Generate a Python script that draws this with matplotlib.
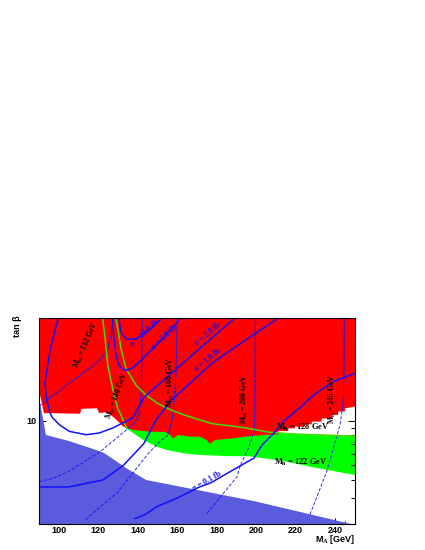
import matplotlib
matplotlib.use("Agg")
import matplotlib.pyplot as plt
from matplotlib.patches import Polygon
from matplotlib.ticker import FixedLocator, NullFormatter, FixedFormatter

plt.rcParams['mathtext.fontset'] = 'custom'
plt.rcParams['mathtext.rm'] = 'Liberation Serif:bold'
plt.rcParams['mathtext.it'] = 'Liberation Serif:italic:bold'
plt.rcParams['mathtext.bf'] = 'Liberation Serif:bold'

# ---------------- data (M_A [GeV], tan beta) ----------------
# LEP excluded region upper boundary
lep_x = [90, 90, 93.5, 105.2, 118.9, 122.9, 129, 134, 144.2, 198.9, 248]
lep_y = [2.0, 14.6, 8.04, 7.31, 6.36, 6.07, 5.35, 4.8, 3.98, 2.86, 2.0]

# red (excluded) region lower boundary, left to right
red_x = [90, 92.5, 97, 110.8, 111.5, 119.4, 120.5, 124.3, 128.5, 132.7, 137.7,
         146.2, 153.8, 156.3, 158, 160.4, 166.5, 171.5, 174.9, 176.6, 179.1,
         188.4, 194.3, 200, 207.6, 211.2, 211.2, 216.2, 216.2, 219.6, 219.6,
         224.7, 224.7, 228.1, 228.1, 233.1, 233.1, 238.2, 238.2, 241.5, 241.5,
         244.9, 244.9, 250]
red_y = [16.2, 11.3, 11.3, 11.2, 12.1, 12.2, 11.3, 11.5, 10.4, 9.15, 8.69,
         8.46, 8.42, 8.04, 7.6, 8.04, 7.83, 7.83, 7.43, 7.0, 7.43,
         7.63, 7.83, 7.95, 8.1, 8.1, 8.55, 8.55, 8.92, 8.92, 9.15,
         9.15, 9.5, 9.5, 9.9, 9.9, 10.4, 10.4, 11.0, 11.0, 11.6,
         11.6, 12.2, 12.5]

# green band: lower boundary (M_h = 122 GeV side)
green_lo_x = [137.6, 142.8, 149.6, 154.7, 163.1, 171.5, 185, 196.8, 213.7, 230.6, 250]
green_lo_y = [8.3, 7.43, 6.69, 6.36, 6.04, 5.88, 5.78, 5.76, 5.35, 4.8, 4.3]

# green contour lines
mh122_x = [122.2, 123.1, 124.8, 127.3, 129.8, 131.5, 134.4]
mh122_y = [50, 40.3, 24.0, 16.6, 12.2, 11.0, 8.9]
mh128_x = [129.0, 131.5, 134, 139.1, 144.2, 149.9, 156.7, 163.4, 170.1, 177.6,
           194.3, 206.3, 220, 250]
mh128_y = [50, 31, 22.8, 17.5, 15.0, 13.2, 11.9, 11.0, 10.3, 9.6,
           9.0, 8.4, 8.15, 7.9]

# cross-section contours
sig01_x = [138.5, 139.6, 144.2, 149.6, 159.7, 171.5, 176.9, 187.1, 198.9, 203, 209,
           214, 222, 229, 239, 250]
sig01_y = [2.18, 2.2, 2.34, 2.62, 2.99, 3.58, 3.80, 4.56, 5.61, 6.9, 8.3,
           10.0, 12.3, 15.0, 18.5, 21.1]
sig1_x = [90, 105.2, 122.4, 132.7, 143, 149.5, 157.2, 177.6, 196.8, 211.4]
sig1_y = [3.57, 3.57, 3.98, 5.0, 7.0, 10.3, 13.9, 24.7, 37.2, 50]
sig2_x = [99.8, 95.6, 93.0, 93.9, 95.6, 96.9, 100.3, 105.3, 113.8, 120.5, 127.3,
          134.1, 137.4, 143.2, 171.5, 189.2]
sig2_y = [50, 30.3, 18.1, 13.9, 11.3, 10.5, 9.44, 8.51, 8.07, 8.29, 8.97,
          9.95, 10.5, 14.5, 31.2, 50]
sig5_x = [127.1, 127.8, 128.8, 130.2, 132, 134.4, 137.5, 141.6, 146.5, 151.6, 156.5, 161.9]
sig5_y = [50, 38, 29, 24.3, 22.6, 22.1, 23, 25.8, 30, 35.1, 41.5, 50]
sig10_x = [130.5, 131.2, 132, 134, 136.5, 139.5, 142.3, 147, 152.3]
sig10_y = [50, 42, 38.5, 36.3, 35.7, 36.5, 38.3, 43, 50]

# heavy Higgs mass contours
mH132_x = [90, 101.5, 113, 121, 124.5, 126.5, 127.5]
mH132_y = [12.6, 16.5, 21.5, 26, 30, 38, 50]
mH140_x = [90, 97.2, 105.3, 121, 131, 138, 140.5, 141.5, 142, 142.2]
mH140_y = [3.87, 4.09, 4.56, 6.2, 8.0, 9.6, 11, 14, 20, 50]
mH160_x = [113.8, 115.5, 130, 145.2, 151, 155.3, 157.5, 158.5, 159.3, 160]
mH160_y = [2.14, 2.26, 3.3, 6.0, 7.2, 8.05, 10.2, 14, 20, 50]
mH200_x = [175.1, 190.3, 192.1, 196, 198.9, 199.3, 199.5]
mH200_y = [2.36, 4.2, 5.05, 6.5, 8.6, 12, 50]
mH245_x = [227.2, 235.7, 238.9, 242.4, 243.9, 244.4, 244.6]
mH245_y = [2.32, 4.55, 6.4, 9.4, 12.8, 20, 50]

x_ticks = [100, 120, 140, 160, 180, 200, 220, 240]
y_tick_labels = {10: "10"}

# ---------------- figure ----------------
fig = plt.figure(figsize=(4.25, 5.5), dpi=100)
ax = fig.add_axes([39 / 425, 1 - 524 / 550, 316 / 425, 206 / 550])
ax.set_xlim(90, 250)
ax.set_yscale('log')
ax.set_ylim(2, 50)

RED = '#ff0000'
GREEN = '#00ff00'
LEP = '#5b5bdd'
BLUE = '#1010ff'
GLINE = '#44dd00'

# green band polygon
gx = mh122_x + green_lo_x + [250] + mh128_x[::-1]
gy = mh122_y + green_lo_y + [7.9] + mh128_y[::-1]
ax.add_patch(Polygon(list(zip(gx, gy)), closed=True, fc=GREEN, ec='none', zorder=1))

# red polygon
rx = [90, 250] + red_x[::-1]
ry = [50, 50] + red_y[::-1]
red_patch = Polygon(list(zip(rx, ry)), closed=True, fc=RED, ec='none', zorder=2)
ax.add_patch(red_patch)

# LEP region
ax.add_patch(Polygon(list(zip(lep_x, lep_y)), closed=True, fc=LEP, ec='none', zorder=3))

# heavy Higgs mass contours: dashed everywhere, solid inside red region
for xs, ys in [(mH132_x, mH132_y), (mH140_x, mH140_y), (mH160_x, mH160_y),
               (mH200_x, mH200_y), (mH245_x, mH245_y)]:
    ax.plot(xs, ys, color=BLUE, lw=0.6, ls=(0, (4, 2)), zorder=4)
    ln, = ax.plot(xs, ys, color='#3a20c8', lw=0.6, zorder=4)
    ln.set_clip_path(red_patch)

# green lines
for xs, ys in [(mh122_x, mh122_y), (mh128_x, mh128_y)]:
    ax.plot(xs, ys, color=GLINE, lw=1.1, zorder=5)

# cross-section contours
for xs, ys in [(sig01_x, sig01_y), (sig1_x, sig1_y), (sig2_x, sig2_y),
               (sig5_x, sig5_y), (sig10_x, sig10_y)]:
    ax.plot(xs, ys, color=BLUE, lw=1.1, zorder=6)

# labels
lab = dict(fontfamily='Liberation Serif', fontweight='bold', fontsize=5.5,
           ha='center', va='center', zorder=8)
ax.text(113.8, 32.8, r'M$_{\rm H}$ = 132 GeV', rotation=66, **lab)
ax.text(129.5, 14.8, r'M$_{\rm H}$ = 140 GeV', rotation=70, **lab)
ax.text(156.3, 18.5, r'M$_{\rm H}$ = 160 GeV', rotation=90, **lab)
ax.text(194.0, 14.0, r'M$_{\rm H}$ = 200 GeV', rotation=90, **lab)
ax.text(238.4, 14.0, r'M$_{\rm H}$ = 245 GeV', rotation=90, **lab)
lab2 = dict(lab, fontsize=6.0)
ax.text(223.7, 9.05, r'M$_{\rm h}$ = 128 GeV', rotation=0, **lab2)
ax.text(222.7, 5.27, r'M$_{\rm h}$ = 122 GeV', rotation=0, **lab2)

slab = dict(fontfamily='Liberation Serif', fontweight='bold', fontsize=5.8,
            color=BLUE, ha='center', va='center', zorder=8)
ax.text(143.7, 39.6, 'σ = 10.0 fb', rotation=43, **slab)
ax.text(153.7, 36.6, 'σ = 5.0 fb', rotation=43, **slab)
ax.text(175.6, 38.9, 'σ = 2.0 fb', rotation=40, **slab)
ax.text(175.6, 25.9, 'σ = 1.0 fb', rotation=40, **slab)
ax.text(175.1, 3.92, 'σ = 0.1 fb', rotation=30, **slab)

# axes styling
ax.xaxis.set_major_locator(FixedLocator(x_ticks))
ax.xaxis.set_minor_locator(FixedLocator([v for v in range(90, 251, 5) if v % 20 != 0]))
ax.yaxis.set_major_locator(FixedLocator(list(y_tick_labels.keys())))
ax.yaxis.set_major_formatter(FixedFormatter(list(y_tick_labels.values())))
ax.yaxis.set_minor_locator(FixedLocator([2, 3, 4, 5, 6, 7, 8, 9, 20, 30, 40, 50]))
ax.yaxis.set_minor_formatter(NullFormatter())
ax.tick_params(which='both', direction='in', top=True, right=True, width=0.7,
               labelsize=6.5)
ax.tick_params(axis='x', which='major', length=4.3, pad=1.2)
ax.tick_params(axis='x', which='minor', length=2.2)
ax.tick_params(axis='y', which='major', length=5.0, pad=2)
ax.tick_params(axis='y', which='minor', length=3.0)
for lbl in ax.get_xticklabels() + ax.get_yticklabels():
    lbl.set_fontfamily('Liberation Sans')
    lbl.set_fontweight('bold')
for sp in ax.spines.values():
    sp.set_linewidth(0.8)
    sp.set_zorder(10)

fig.text(355 / 425, 1 - 533.5 / 550, r'M$_{\rm A}$ [GeV]', ha='right', va='top',
         fontsize=6.5, fontfamily='Liberation Sans', fontweight='bold')
fig.text(18 / 425, 1 - 326 / 550, 'tan β', rotation=90, ha='center', va='center',
         fontsize=6.5, fontfamily='Liberation Sans', fontweight='bold')

fig.savefig('out.png', dpi=100)
